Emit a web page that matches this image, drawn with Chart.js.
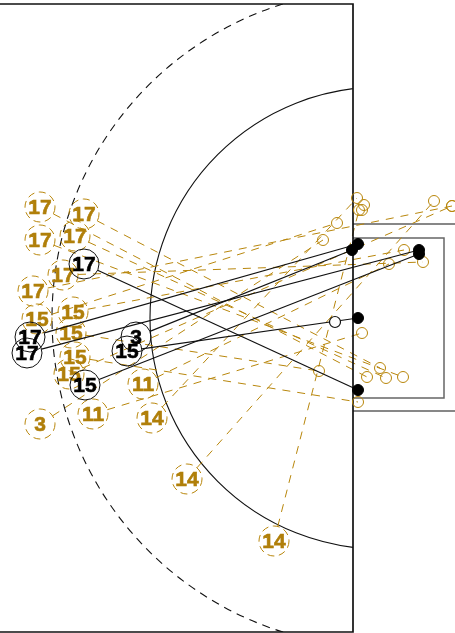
<!DOCTYPE html>
<html>
<head>
<meta charset="utf-8">
<title>Shot map</title>
<script src="https://cdn.jsdelivr.net/npm/chart.js@4.5.0/dist/chart.umd.js"></script>
<style>
  html, body { margin: 0; padding: 0; background: #fff; }
  canvas { display: block; }
</style>
</head>
<body>
<canvas id="chart" width="455" height="633"></canvas>
<script>
// picture units, one unit is one pixel of the 455x633 frame
const goldNumbers = [17, 17, 17, 17, 17, 17, 15, 15, 15, 15, 15, 3, 11, 11, 14, 14, 14];
const goldX = [40, 84, 40, 75, 63, 33, 37, 73, 71, 75, 69, 40, 93, 143, 152, 187, 274];
const goldY = [207, 214, 240, 236, 275, 291, 319, 312, 333, 357, 374, 424, 414, 384, 418, 479, 541];
const goldEndX = [367, 380, 403, 386, 423, 452, 337, 404, 319, 358, 452, 323, 362, 389, 357, 434, 359];
const goldEndY = [377, 368, 377, 378, 262, 206, 223, 250, 371, 402, 206, 240, 333, 264, 198, 201, 210];
const looseEndX = [362, 364];
const looseEndY = [210, 205];

const blackNumbers = [17, 17, 17, 3, 15, 15];
const blackX = [84, 30, 27, 136, 127, 85];
const blackY = [264, 337, 353, 337, 351, 385];
const blackEndX = [358, 358, 419, 352, 358, 419];
const blackEndY = [390, 244, 250, 250, 318, 254];
const blockedX = [335];
const blockedY = [322];

// court
const boundaryX = [0, 353, 353, 0];
const boundaryY = [4, 4, 632, 632];
const goalBoxX = [353, 444, 444, 353];
const goalBoxY = [238, 238, 398, 398];
const outerTopX = [353, 455];
const outerTopY = [224, 224];
const outerBottomX = [353, 455];
const outerBottomY = [411, 411];
const arcCenter = [381, 318];
const innerRadius = 231;
const outerRadius = 329;

const GOLD = '#b8860b';
const BIG_RADIUS = 15;

const toPoints = (xs, ys) => xs.map((x, i) => ({ x, y: ys[i] }));

// the shot line starts on the edge of the number ring, not in its centre
const shotLine = (x, y, endX, endY) => {
  const len = Math.hypot(endX - x, endY - y);
  const k = BIG_RADIUS / len;
  return [{ x: x + (endX - x) * k, y: y + (endY - y) * k }, { x: endX, y: endY }];
};

const courtLine = (xs, ys, color, width) => ({
  data: toPoints(xs, ys),
  showLine: true,
  borderColor: color,
  borderWidth: width,
  pointRadius: 0
});

const lineSet = (xs, ys, endXs, endYs, color, dash, width) => xs.map((x, i) => ({
  data: shotLine(x, ys[i], endXs[i], endYs[i]),
  showLine: true,
  borderColor: color,
  borderWidth: width,
  borderDash: dash,
  pointRadius: 0
}));

const ringSet = (xs, ys, color, radius, extra) => ({
  data: toPoints(xs, ys),
  pointRadius: radius,
  pointBorderColor: color,
  pointBackgroundColor: 'transparent',
  pointBorderWidth: 1,
  ...extra
});

// listed bottom layer first, reversed below because Chart.js paints the first dataset last
const datasets = [
  courtLine(goalBoxX, goalBoxY, '#666', 1.5),
  courtLine(outerTopX, outerTopY, '#111', 1.2),
  courtLine(outerBottomX, outerBottomY, '#111', 1.2),
  ...lineSet(goldX, goldY, goldEndX, goldEndY, GOLD, [8, 7], 1),
  courtLine(boundaryX, boundaryY, '#111', 1.7),
  ringSet(goldEndX, goldEndY, GOLD, 5.5, {}),
  ringSet(looseEndX, looseEndY, GOLD, 5.5, {}),
  ringSet(goldX, goldY, GOLD, BIG_RADIUS, { ringDash: [7, 4.5], numbers: goldNumbers, numberColor: '#b07f0a' }),
  ...lineSet(blackX, blackY, blackEndX, blackEndY, '#111', [], 1.2),
  ringSet(blackEndX, blackEndY, '#000', 5.5, { pointBackgroundColor: '#000' }),
  ringSet(blockedX, blockedY, '#111', 5.5, { pointBackgroundColor: '#fff', pointBorderWidth: 1.2 }),
  ringSet(blackX, blackY, '#111', BIG_RADIUS, { numbers: blackNumbers, numberColor: '#000' })
].reverse();

// the two curved lines of the court
const arcsPlugin = {
  id: 'arcs',
  beforeDatasetsDraw(chart) {
    const { ctx, scales: { x, y } } = chart;
    const cx = x.getPixelForValue(arcCenter[0]);
    const cy = y.getPixelForValue(arcCenter[1]);
    const left = x.getPixelForValue(0);
    const top = y.getPixelForValue(boundaryY[0]);
    const right = x.getPixelForValue(boundaryX[1]);
    const bottom = y.getPixelForValue(boundaryY[2]);
    ctx.save();
    ctx.beginPath();
    ctx.rect(left, top, right - left, bottom - top);
    ctx.clip();
    ctx.strokeStyle = '#111';
    ctx.lineWidth = 1.1;
    ctx.beginPath();
    ctx.arc(cx, cy, x.getPixelForValue(innerRadius) - left, 0, Math.PI * 2);
    ctx.stroke();
    ctx.setLineDash([8, 6]);
    ctx.beginPath();
    ctx.arc(cx, cy, x.getPixelForValue(outerRadius) - left, 0, Math.PI * 2);
    ctx.stroke();
    ctx.restore();
  }
};

// Point elements have no dash option, so set it on the context around the draw
const ringDashPlugin = {
  id: 'ringDash',
  beforeDatasetDraw(chart, args) {
    const dash = chart.data.datasets[args.index].ringDash;
    if (dash) chart.ctx.setLineDash(dash);
  },
  afterDatasetDraw(chart) {
    chart.ctx.setLineDash([]);
  }
};

const numbersPlugin = {
  id: 'numbers',
  afterDatasetDraw(chart, args) {
    const ds = chart.data.datasets[args.index];
    if (!ds.numbers) return;
    const { ctx } = chart;
    ctx.save();
    ctx.font = 'bold 21px "Liberation Sans", Arial, sans-serif';
    ctx.textAlign = 'center';
    ctx.textBaseline = 'middle';
    ctx.fillStyle = ds.numberColor;
    ctx.strokeStyle = ds.numberColor;
    ctx.lineWidth = 0.6;
    args.meta.data.forEach((pt, i) => {
      ctx.fillText(String(ds.numbers[i]), pt.x, pt.y + 1);
      ctx.strokeText(String(ds.numbers[i]), pt.x, pt.y + 1);
    });
    ctx.restore();
  }
};

new Chart(document.getElementById('chart'), {
  type: 'scatter',
  data: { datasets },
  options: {
    responsive: false,
    animation: false,
    layout: { padding: 0, autoPadding: false },
    events: [],
    scales: {
      x: { type: 'linear', display: false, min: 0, max: 455 },
      y: { type: 'linear', display: false, min: 0, max: 633, reverse: true }
    },
    plugins: {
      legend: { display: false },
      tooltip: { enabled: false }
    }
  },
  plugins: [arcsPlugin, ringDashPlugin, numbersPlugin]
});
</script>
</body>
</html>
